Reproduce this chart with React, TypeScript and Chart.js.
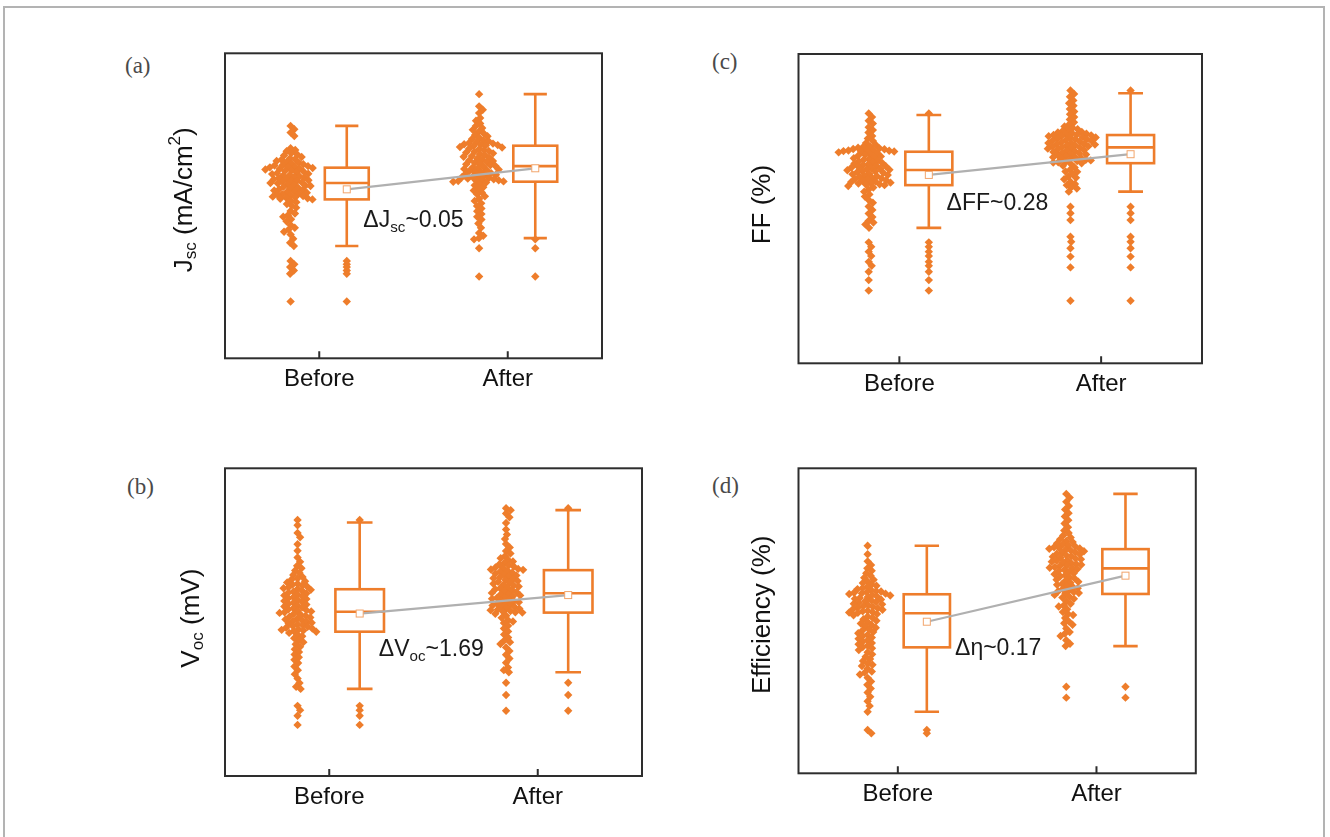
import React, { useEffect, useRef } from 'react';
import { Chart, registerables } from 'chart.js';

Chart.register(...registerables);

// ---------- data (relative units; the y axes carry no numeric ticks) ----------
const categories = ['Before', 'After'];

// Jsc
const jscBefore = [
  76.2, 75.1, 74.0, 72.9,
  68.9, 68.3, 67.9, 67.2, 66.8, 66.5, 66.0, 65.6, 65.3, 65.1, 64.7, 64.4, 64.2, 63.9, 63.6, 63.4, 63.2, 63.0, 62.8, 62.7, 62.6,
  62.4, 62.2, 62.1, 61.9, 61.6, 61.4, 61.2, 61.0, 60.7, 60.5, 60.4, 60.1, 59.9, 59.7, 59.5, 59.3, 59.0, 58.8, 58.7, 58.4, 58.2, 58.1, 57.9, 57.7, 57.5,
  57.3, 57.1, 56.8, 56.6, 56.5, 56.2, 55.9, 55.7, 55.4, 55.2, 55.0, 54.7, 54.5, 54.3, 54.0, 53.8, 53.7, 53.4, 53.2, 53.0, 52.8, 52.6, 52.5, 52.3, 52.1,
  51.7, 51.2, 50.6, 50.1, 49.4, 48.3, 47.5, 46.9, 46.4, 45.6, 44.9, 43.7, 42.8, 42.2, 41.5, 40.6, 39.2, 37.9, 36.8,
  31.9, 30.8, 29.9, 28.8, 27.7, 18.6,
];
const jscAfter = [
  86.6, 82.6, 81.5, 80.4, 78.8, 77.9, 77.0, 76.2, 75.5, 74.9, 74.3, 73.8, 73.2, 72.8, 72.3, 71.9, 71.5, 71.2, 70.9, 70.6, 70.4, 70.2, 70.0, 69.9, 69.8,
  69.6, 69.3, 69.1, 68.8, 68.5, 68.3, 68.0, 67.7, 67.5, 67.2, 66.9, 66.6, 66.3, 66.1, 65.8, 65.5, 65.2, 64.9, 64.7, 64.4, 64.1, 63.8, 63.6, 63.3, 63.1,
  62.8, 62.6, 62.3, 62.1, 61.9, 61.6, 61.4, 61.1, 60.9, 60.7, 60.4, 60.2, 60.0, 59.7, 59.5, 59.3, 59.1, 58.9, 58.7, 58.6, 58.4, 58.3, 58.1, 58.0, 57.9,
  57.6, 57.2, 56.7, 56.1, 55.6, 55.0, 54.4, 53.8, 53.1, 52.3, 51.6, 50.8, 49.9, 49.1, 48.2, 47.3, 46.4, 45.5, 44.2, 42.8, 41.1, 40.2, 39.4,
  39.0, 36.1, 26.8,
];
// box statistics: [lower whisker, Q1, median, Q3, upper whisker, mean]
const jscBeforeBox = [36.8, 52.1, 57.5, 62.5, 76.2, 55.4];
const jscAfterBox = [39.4, 57.9, 63.0, 69.7, 86.6, 62.3];

// FF
const ffBefore = [
  80.8, 79.6, 78.4, 77.5, 76.3, 75.4, 74.6, 73.5, 72.7, 71.9, 71.2, 70.6, 70.2, 69.9, 69.7, 69.5, 69.3, 69.2, 69.0, 68.9, 68.8, 68.7, 68.6, 68.5, 68.4,
  68.2, 68.0, 67.7, 67.4, 67.1, 66.9, 66.6, 66.3, 66.0, 65.8, 65.5, 65.3, 65.0, 64.8, 64.6, 64.3, 64.1, 63.9, 63.7, 63.5, 63.3, 63.1, 62.9, 62.7, 62.6,
  62.4, 62.2, 62.0, 61.8, 61.6, 61.3, 61.1, 60.9, 60.7, 60.5, 60.3, 60.0, 59.8, 59.6, 59.4, 59.2, 59.0, 58.8, 58.6, 58.4, 58.2, 58.1, 57.9, 57.8, 57.6,
  57.3, 56.8, 56.2, 55.5, 54.6, 53.9, 52.8, 51.9, 50.7, 49.6, 48.4, 47.3, 46.1, 45.5, 44.9, 43.8,
  39.1, 37.7, 36.1, 34.7, 32.8, 31.5, 29.6, 26.9, 23.5,
];
const ffAfter = [
  88.2, 87.1, 86.2, 85.0, 84.1, 83.3, 82.2, 81.4, 80.5, 79.6, 78.8, 77.9, 77.2, 76.6, 76.1, 75.7, 75.4, 75.1, 74.8, 74.6, 74.4, 74.2, 74.0, 73.9, 73.8,
  73.7, 73.5, 73.4, 73.2, 73.0, 72.9, 72.7, 72.5, 72.4, 72.2, 72.0, 71.9, 71.7, 71.5, 71.3, 71.2, 71.0, 70.8, 70.7, 70.5, 70.4, 70.2, 70.1, 69.9, 69.8,
  69.6, 69.4, 69.2, 69.0, 68.8, 68.6, 68.3, 68.1, 67.9, 67.7, 67.5, 67.3, 67.0, 66.8, 66.6, 66.4, 66.2, 66.0, 65.8, 65.6, 65.4, 65.2, 65.0, 64.9, 64.7,
  64.4, 63.9, 63.3, 62.6, 62.0, 61.9, 61.2, 60.4, 60.0, 59.5, 58.7, 58.0, 57.6, 56.9, 56.5, 55.5,
  50.6, 48.5, 46.3, 40.9, 39.3, 37.2, 34.5, 31.0, 20.2,
];
const ffBeforeBox = [43.8, 57.6, 62.5, 68.4, 80.3, 60.9];
const ffAfterBox = [55.5, 64.7, 69.8, 73.8, 87.3, 67.6];

// Voc
const vocBefore = [
  83.2, 81.5, 79.0, 77.6, 75.3, 73.2, 71.0, 69.6, 68.3, 67.5, 66.8, 66.0, 65.3, 64.7, 64.2, 63.8, 63.3, 62.9, 62.5, 62.2, 61.9, 61.6, 61.3, 61.0, 60.8,
  60.5, 60.2, 59.9, 59.6, 59.3, 59.0, 58.7, 58.4, 58.1, 57.8, 57.5, 57.2, 56.9, 56.6, 56.3, 56.0, 55.7, 55.4, 55.1, 54.8, 54.5, 54.2, 53.9, 53.7, 53.5,
  53.2, 53.0, 52.7, 52.4, 52.1, 51.8, 51.5, 51.2, 50.9, 50.6, 50.4, 50.1, 49.8, 49.6, 49.3, 49.0, 48.7, 48.5, 48.2, 47.9, 47.7, 47.5, 47.3, 47.1, 46.9,
  46.5, 46.0, 45.4, 44.8, 44.1, 43.5, 42.8, 42.0, 41.2, 40.3, 39.5, 38.6, 37.8, 36.7, 35.6, 34.4, 33.1, 31.7, 30.2, 29.0, 28.3,
  22.8, 21.4, 19.6, 16.6,
];
const vocAfter = [
  87.0, 86.4, 85.3, 84.1, 82.2, 80.1, 78.5, 77.0, 75.4, 74.3, 73.1, 72.3, 71.5, 70.8, 70.2, 69.7, 69.2, 68.8, 68.5, 68.1, 67.8, 67.6, 67.3, 67.1, 67.0,
  66.7, 66.4, 66.1, 65.8, 65.5, 65.2, 64.9, 64.6, 64.3, 64.0, 63.7, 63.4, 63.1, 62.8, 62.5, 62.2, 61.9, 61.6, 61.3, 61.0, 60.7, 60.4, 60.1, 59.8, 59.5,
  59.2, 59.0, 58.7, 58.4, 58.1, 57.9, 57.6, 57.3, 57.0, 56.8, 56.5, 56.2, 56.0, 55.7, 55.4, 55.1, 54.9, 54.6, 54.4, 54.1, 53.9, 53.6, 53.4, 53.2, 53.1,
  52.7, 52.1, 51.4, 50.6, 50.2, 49.7, 48.8, 47.9, 47.0, 46.0, 45.0, 44.0, 43.5, 42.9, 41.8, 40.6, 39.4, 38.2, 36.8, 35.3, 34.4, 33.7,
  30.3, 26.3, 21.2,
];
const vocBeforeBox = [28.3, 46.9, 53.4, 60.7, 82.4, 52.8];
const vocAfterBox = [33.7, 53.1, 59.4, 66.9, 86.4, 58.8];

// Efficiency
const effBefore = [
  74.6, 71.8, 69.5, 68.3, 67.2, 66.4, 65.6, 64.8, 64.1, 63.5, 62.9, 62.4, 61.9, 61.5, 61.1, 60.7, 60.4, 60.1, 59.8, 59.6, 59.4, 59.2, 59.0, 58.9, 58.8,
  58.5, 58.3, 58.0, 57.8, 57.5, 57.2, 57.0, 56.7, 56.4, 56.2, 55.9, 55.6, 55.4, 55.1, 54.8, 54.6, 54.3, 54.1, 53.8, 53.6, 53.3, 53.1, 52.9, 52.7, 52.6,
  52.2, 51.8, 51.4, 51.0, 50.5, 50.0, 49.6, 49.1, 48.6, 48.2, 47.7, 47.2, 46.8, 46.3, 45.9, 45.4, 45.0, 44.5, 44.1, 43.6, 43.2, 42.7, 42.3, 41.8, 41.4,
  41.0, 40.4, 39.7, 39.0, 38.2, 37.5, 36.8, 36.0, 35.6, 35.2, 34.3, 33.4, 33.0, 32.4, 31.3, 30.1, 29.0, 27.8, 26.5, 25.1, 23.6, 22.1, 20.2,
  14.2, 13.1,
];
const effAfter = [
  91.6, 90.4, 89.0, 87.6, 86.5, 85.3, 84.2, 83.0, 81.9, 80.7, 79.6, 78.8, 78.0, 77.3, 76.7, 76.2, 75.8, 75.4, 75.0, 74.7, 74.4, 74.1, 73.9, 73.7, 73.6,
  73.3, 73.1, 72.8, 72.5, 72.3, 72.0, 71.8, 71.5, 71.2, 71.0, 70.7, 70.4, 70.2, 69.9, 69.7, 69.4, 69.1, 68.9, 68.6, 68.4, 68.1, 67.9, 67.6, 67.4, 67.3,
  67.0, 66.7, 66.3, 66.0, 65.6, 65.3, 64.9, 64.6, 64.2, 63.9, 63.5, 63.2, 62.8, 62.5, 62.1, 61.8, 61.4, 61.1, 60.7, 60.4, 60.0, 59.7, 59.4, 59.1, 58.9,
  58.5, 57.9, 57.6, 57.2, 56.4, 55.6, 55.0, 54.7, 53.8, 52.9, 52.2, 51.9, 50.9, 49.8, 49.2, 48.7, 47.5, 46.3, 45.8, 45.0, 43.6, 42.5, 41.7,
  28.4, 24.8,
];
const effBeforeBox = [20.2, 41.3, 52.5, 58.7, 74.6, 49.7];
const effAfterBox = [41.7, 58.8, 67.2, 73.5, 91.6, 64.8];

// ---------- styling / layout ----------
const ORANGE = '#ee7d2b';
const FONT = '"Liberation Sans", Arial, Helvetica, sans-serif';
const SWARM_OFFSET = -0.152;
const BOX_OFFSET = 0.146;
const BOX_WIDTH = 0.233;
const CAP_WIDTH = 0.123;
const SWARM_D = 5.0;
const MARGIN = { l: 70, r: 20, t: 10, b: 50 };
const XAXIS_H = 40;

type Seg = { t: string; sub?: boolean; sup?: boolean };

const panels = [
  {
    key: 'a', label: '(a)', labelPos: [125, 54],
    area: { l: 225, r: 602, t: 53.3, b: 358.3 },
    groups: [jscBefore, jscAfter], boxes: [jscBeforeBox, jscAfterBox],
    title: [{ t: 'J' }, { t: 'sc', sub: true }, { t: ' (mA/cm' }, { t: '2', sup: true }, { t: ')' }] as Seg[],
    titleDx: -40, titleDy: -6,
    note: [{ t: '\u0394J' }, { t: 'sc', sub: true }, { t: '~0.05' }] as Seg[],
    noteAt: [1.234, 43.1],
  },
  {
    key: 'c', label: '(c)', labelPos: [712, 50],
    area: { l: 798.5, r: 1202, t: 54, b: 363.3 },
    groups: [ffBefore, ffAfter], boxes: [ffBeforeBox, ffAfterBox],
    title: [{ t: 'FF (%)' }] as Seg[],
    titleDx: -36, titleDy: -4,
    note: [{ t: '\u0394FF~0.28' }] as Seg[],
    noteAt: [1.234, 49.6],
  },
  {
    key: 'b', label: '(b)', labelPos: [127, 475],
    area: { l: 225, r: 642, t: 468.3, b: 776 },
    groups: [vocBefore, vocAfter], boxes: [vocBeforeBox, vocAfterBox],
    title: [{ t: 'V' }, { t: 'oc', sub: true }, { t: ' (mV)' }] as Seg[],
    titleDx: -33, titleDy: -4,
    note: [{ t: '\u0394V' }, { t: 'oc', sub: true }, { t: '~1.69' }] as Seg[],
    noteAt: [1.238, 39.1],
  },
  {
    key: 'd', label: '(d)', labelPos: [712, 474],
    area: { l: 798.5, r: 1195.8, t: 468.3, b: 773.3 },
    groups: [effBefore, effAfter], boxes: [effBeforeBox, effAfterBox],
    title: [{ t: 'Efficiency (%)' }] as Seg[],
    titleDx: -36, titleDy: -6,
    note: [{ t: '\u0394\u03b7~0.17' }] as Seg[],
    noteAt: [1.288, 38.8],
  },
];

function drawRich(ctx: CanvasRenderingContext2D, segs: Seg[], x: number, y: number, size: number, align: 'left' | 'center') {
  const parts = segs.map((s) => {
    const fs = s.sub || s.sup ? size * 0.66 : size;
    ctx.font = `${fs}px ${FONT}`;
    return { ...s, fs, w: ctx.measureText(s.t).width };
  });
  const total = parts.reduce((a, p) => a + p.w, 0);
  let cx = align === 'center' ? x - total / 2 : x;
  for (const p of parts) {
    ctx.font = `${p.fs}px ${FONT}`;
    const dy = p.sub ? size * 0.24 : p.sup ? -size * 0.36 : 0;
    ctx.fillText(p.t, cx, y + dy);
    cx += p.w;
  }
}

function swarm(pys: number[], d: number): number[] {
  const placed: { x: number; y: number }[] = [];
  const out: number[] = [];
  for (const y of pys) {
    const cands = [0];
    for (const p of placed) {
      const dy = Math.abs(p.y - y);
      if (dy < d) {
        const dx = Math.sqrt(d * d - dy * dy);
        cands.push(p.x + dx, p.x - dx);
      }
    }
    cands.sort((a, b) => Math.abs(a) - Math.abs(b));
    let chosen = 0;
    for (const c of cands) {
      if (placed.every((p) => (p.x - c) ** 2 + (p.y - y) ** 2 >= d * d - 1e-6)) {
        chosen = c;
        break;
      }
    }
    placed.push({ x: chosen, y });
    out.push(chosen);
  }
  return out;
}

function Panel({ cfg }: { cfg: (typeof panels)[number] }) {
  const ref = useRef<HTMLCanvasElement | null>(null);
  const left = Math.floor(cfg.area.l - MARGIN.l);
  const top = Math.floor(cfg.area.t - MARGIN.t);
  const width = Math.ceil(cfg.area.r + MARGIN.r) - left;
  const height = Math.ceil(cfg.area.b + MARGIN.b) - top;
  const pad = {
    left: cfg.area.l - left,
    right: left + width - cfg.area.r,
    top: cfg.area.t - top,
    bottom: top + height - cfg.area.b - XAXIS_H,
  };

  useEffect(() => {
    const canvas = ref.current!;
    const outliers = cfg.groups.map((vals, gi) => {
      const [lo, , , , hi] = cfg.boxes[gi];
      return vals.filter((v) => v < lo - 1e-9 || v > hi + 1e-9);
    });

    const decor = {
      id: 'decor_' + cfg.key,
      afterDatasetsDraw(chart: any) {
        const ctx: CanvasRenderingContext2D = chart.ctx;
        const xs = chart.scales.x;
        const ys = chart.scales.y;
        const ca = chart.chartArea;
        ctx.save();
        const means: [number, number][] = [];
        cfg.boxes.forEach((b, gi) => {
          const [lo, q1, med, q3, hi, mean] = b;
          const cx = xs.getPixelForValue(gi + 1 + BOX_OFFSET);
          const hw = (xs.getPixelForValue(gi + 1 + BOX_OFFSET + BOX_WIDTH / 2) - cx);
          const cw = (xs.getPixelForValue(gi + 1 + BOX_OFFSET + CAP_WIDTH / 2) - cx);
          const pLo = ys.getPixelForValue(lo), pQ1 = ys.getPixelForValue(q1), pMed = ys.getPixelForValue(med);
          const pQ3 = ys.getPixelForValue(q3), pHi = ys.getPixelForValue(hi);
          ctx.strokeStyle = ORANGE;
          ctx.lineWidth = 2.6;
          ctx.beginPath();
          ctx.moveTo(cx, pHi); ctx.lineTo(cx, pQ3);
          ctx.moveTo(cx, pQ1); ctx.lineTo(cx, pLo);
          ctx.moveTo(cx - cw, pHi); ctx.lineTo(cx + cw, pHi);
          ctx.moveTo(cx - cw, pLo); ctx.lineTo(cx + cw, pLo);
          ctx.stroke();
          ctx.strokeRect(cx - hw, pQ3, hw * 2, pQ1 - pQ3);
          ctx.beginPath();
          ctx.moveTo(cx - hw, pMed); ctx.lineTo(cx + hw, pMed);
          ctx.stroke();
          means.push([cx, ys.getPixelForValue(mean)]);
        });
        ctx.strokeStyle = '#b0b0b0';
        ctx.lineWidth = 2.2;
        ctx.beginPath();
        ctx.moveTo(means[0][0], means[0][1]);
        ctx.lineTo(means[1][0], means[1][1]);
        ctx.stroke();
        for (const [mx, my] of means) {
          ctx.fillStyle = '#ffffff';
          ctx.strokeStyle = '#f2a56c';
          ctx.lineWidth = 1;
          ctx.fillRect(mx - 3.5, my - 3.5, 7, 7);
          ctx.strokeRect(mx - 3.5, my - 3.5, 7, 7);
        }
        ctx.strokeStyle = '#2e2e2e';
        ctx.lineWidth = 2;
        ctx.strokeRect(ca.left, ca.top, ca.right - ca.left, ca.bottom - ca.top);
        ctx.beginPath();
        [1, 2].forEach((v) => {
          const px = xs.getPixelForValue(v);
          ctx.moveTo(px, ca.bottom);
          ctx.lineTo(px, ca.bottom - 7);
        });
        ctx.stroke();
        ctx.fillStyle = '#1a1a1a';
        ctx.textBaseline = 'alphabetic';
        ctx.textAlign = 'left';
        drawRich(ctx, cfg.note, xs.getPixelForValue(cfg.noteAt[0]), ys.getPixelForValue(cfg.noteAt[1]), 23, 'left');
        ctx.translate(ca.left + cfg.titleDx, (ca.top + ca.bottom) / 2 + cfg.titleDy);
        ctx.rotate(-Math.PI / 2);
        ctx.textBaseline = 'middle';
        ctx.fillStyle = '#111111';
        drawRich(ctx, cfg.title, 0, 0, 26, 'center');
        ctx.restore();
      },
    };

    const pointStyle = {
      pointStyle: 'rectRot' as const,
      radius: 4.2,
      backgroundColor: ORANGE,
      borderColor: ORANGE,
      borderWidth: 0,
    };

    const chart = new Chart(canvas, {
      type: 'scatter',
      data: {
        datasets: [
          ...cfg.groups.map((vals, gi) => ({
            label: categories[gi],
            data: vals.map((v) => ({ x: gi + 1 + SWARM_OFFSET, y: v })),
            ...pointStyle,
          })),
          ...outliers.map((vals, gi) => ({
            label: categories[gi] + ' outliers',
            data: vals.map((v) => ({ x: gi + 1 + BOX_OFFSET, y: v })),
            ...pointStyle,
          })),
        ],
      },
      options: {
        responsive: false,
        animation: false,
        devicePixelRatio: 1,
        layout: { padding: pad },
        plugins: { legend: { display: false }, tooltip: { enabled: false } },
        scales: {
          x: {
            type: 'linear',
            min: 0.5,
            max: 2.5,
            grid: { display: false, drawTicks: false },
            border: { display: false },
            afterBuildTicks: (axis: any) => {
              axis.ticks = categories.map((_, i) => ({ value: i + 1 }));
            },
            afterFit: (axis: any) => {
              axis.height = XAXIS_H;
            },
            ticks: {
              padding: 7,
              color: '#111111',
              font: { family: FONT, size: 24 },
              maxRotation: 0,
              callback: (v: any) => categories[Math.round(Number(v)) - 1] ?? '',
            },
          },
          y: { type: 'linear', min: 0, max: 100, display: false },
        },
      },
      plugins: [decor],
    } as any);

    // beeswarm layout, computed in pixel space through the chart's own scales
    const xs: any = chart.scales.x;
    const ys: any = chart.scales.y;
    cfg.groups.forEach((vals, gi) => {
      const ds: any = chart.data.datasets[gi];
      const cpx = xs.getPixelForValue(gi + 1 + SWARM_OFFSET);
      const offs = swarm(vals.map((v) => ys.getPixelForValue(v)), SWARM_D);
      ds.data = vals.map((v, i) => ({ x: xs.getValueForPixel(cpx + offs[i]), y: v }));
    });
    chart.update('none');

    return () => chart.destroy();
  }, []);

  return (
    <canvas
      ref={ref}
      width={width}
      height={height}
      style={{ position: 'absolute', left, top, width, height }}
    />
  );
}

export default function App() {
  return (
    <div style={{ position: 'absolute', left: 0, top: 0, width: 1330, height: 837, background: '#ffffff', overflow: 'hidden' }}>
      <div style={{ position: 'absolute', left: 3, top: 6, width: 1322, height: 900, border: '2px solid #b3b3b3', boxSizing: 'border-box' }} />
      {panels.map((p) => (
        <div
          key={'lbl' + p.key}
          style={{
            position: 'absolute', left: p.labelPos[0], top: p.labelPos[1],
            fontFamily: '"Liberation Serif", "Times New Roman", serif', fontSize: 23, lineHeight: '23px', color: '#4a4a4a',
          }}
        >
          {p.label}
        </div>
      ))}
      {panels.map((p) => (
        <Panel key={p.key} cfg={p} />
      ))}
    </div>
  );
}
